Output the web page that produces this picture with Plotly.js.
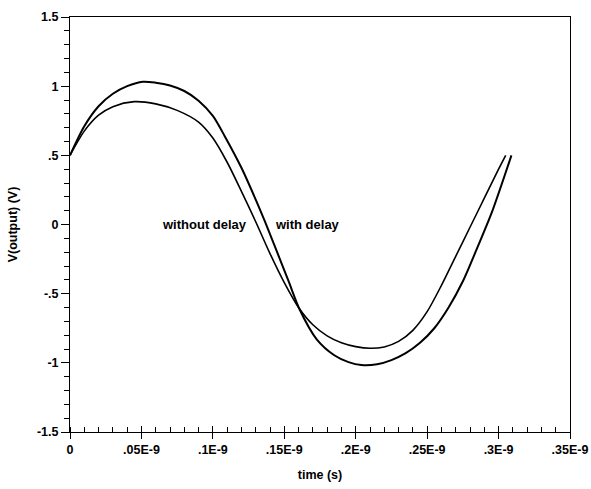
<!DOCTYPE html>
<html>
<head>
<meta charset="utf-8">
<script src="https://cdn.plot.ly/plotly-3.0.1.min.js"></script>
<style>html,body{margin:0;padding:0;background:#fff;}#chart{width:591px;height:489px;}</style>
</head>
<body>
<div id="chart"></div>
<script>
// time in units of 1E-9 s
const tWithout = [0.000,0.010,0.020,0.030,0.045,0.060,0.075,0.090,0.100,0.110,0.120,0.130,0.140,0.150,0.160,0.170,0.180,0.190,0.200,0.210,0.220,0.230,0.240,0.250,0.260,0.270,0.280,0.290,0.300,0.305];
const vWithout = [0.50,0.675,0.79,0.852,0.888,0.872,0.825,0.74,0.625,0.45,0.24,0.02,-0.21,-0.42,-0.60,-0.725,-0.805,-0.855,-0.883,-0.895,-0.885,-0.845,-0.765,-0.63,-0.44,-0.23,-0.02,0.19,0.40,0.50];
const tWith = [0.000,0.010,0.020,0.030,0.040,0.051,0.060,0.070,0.080,0.090,0.100,0.1085,0.120,0.130,0.1365,0.145,0.153,0.161,0.1727,0.185,0.195,0.204,0.215,0.225,0.235,0.245,0.255,0.265,0.275,0.285,0.295,0.309];
const vWith = [0.50,0.71,0.855,0.945,1.0,1.032,1.025,1.005,0.965,0.895,0.785,0.635,0.41,0.18,0.02,-0.20,-0.41,-0.62,-0.83,-0.945,-0.995,-1.016,-1.01,-0.98,-0.93,-0.855,-0.75,-0.60,-0.41,-0.17,0.08,0.50];
const xTickVals = [0,0.05,0.10,0.15,0.20,0.25,0.30,0.35];
const xTickText = ["0",".05E-9",".1E-9",".15E-9",".2E-9",".25E-9",".3E-9",".35E-9"];
const yTickVals = [-1.5,-1,-0.5,0,0.5,1,1.5];
const yTickText = ["-1.5","-1","-.5","0",".5","1","1.5"];
const labels = ["without delay","with delay"];

const S = 1e-9;
const sc = a => a.map(v => v*S);
const FONT = "'Liberation Sans', Arial, sans-serif";
const f = (size) => ({family:FONT, size:size, color:'#000', weight:'bold'});

const traces = [
  {x: sc(tWithout), y: vWithout, mode:'lines', line:{color:'#000', width:1.6, shape:'spline', smoothing:0.8}, hoverinfo:'skip'},
  {x: sc(tWith), y: vWith, mode:'lines', line:{color:'#000', width:2, shape:'spline', smoothing:0.8}, hoverinfo:'skip'},
  {x: [], y: [], xaxis:'x2', yaxis:'y', showlegend:false}
];

const layout = {
  width:591, height:489,
  margin:{l:70, r:21, t:17, b:57},
  paper_bgcolor:'#fff', plot_bgcolor:'#fff',
  showlegend:false,
  font:f(12),
  xaxis:{
    range:[0, 0.35*S], tickmode:'array', tickvals:sc(xTickVals), ticktext:xTickText,
    showgrid:false, zeroline:false, showline:true, linecolor:'#000', linewidth:1, mirror:true,
    ticks:'outside', ticklen:6, tickcolor:'#000', tickwidth:1,
    minor:{tickmode:'linear', tick0:0, dtick:0.01*S, ticks:'inside', ticklen:5, tickcolor:'#000', tickwidth:1, showgrid:false},
    tickfont:f(12.5),
    title:{text:'time (s)', font:f(12.5), standoff:14}
  },
  xaxis2:{
    overlaying:'x', anchor:'y', side:'bottom', range:[0, 0.35*S], tickmode:'array', tickvals:sc(xTickVals),
    showticklabels:false, ticks:'inside', ticklen:6, tickcolor:'#000', showgrid:false, zeroline:false, showline:false
  },
  yaxis:{
    range:[-1.5,1.5], tickmode:'array', tickvals:yTickVals, ticktext:yTickText,
    showgrid:false, zeroline:false, showline:true, linecolor:'#000', linewidth:1, mirror:true,
    ticks:'outside', ticklen:8, tickcolor:'#000', tickwidth:1,
    minor:{tickmode:'linear', tick0:0, dtick:0.1, ticks:'outside', ticklen:5, tickcolor:'#000', tickwidth:1, showgrid:false},
    tickfont:f(12.5),
    title:{text:'V(output) (V)', font:f(12.5), standoff:16}
  },
  annotations:[
    {x:0.1255*S, y:0, xref:'x', yref:'y', text:labels[0], showarrow:false, xanchor:'right', yanchor:'middle', font:f(13)},
    {x:0.1423*S, y:0, xref:'x', yref:'y', text:labels[1], showarrow:false, xanchor:'left', yanchor:'middle', font:f(13)}
  ]
};

Plotly.newPlot('chart', traces, layout, {displayModeBar:false, staticPlot:true});
</script>
</body>
</html>
